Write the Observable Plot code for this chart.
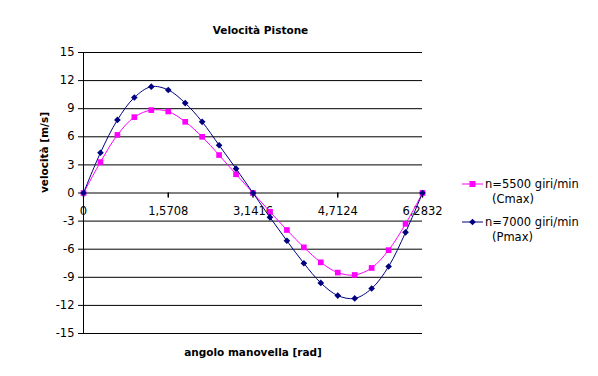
<!DOCTYPE html>
<html><head><meta charset="utf-8">
<script src="https://cdn.jsdelivr.net/npm/d3@7"></script>
<script src="https://cdn.jsdelivr.net/npm/@observablehq/plot@0.6"></script>
<style>body{margin:0;background:#fff}#chart{width:598px;height:376px}</style>
</head><body><div id="chart"></div>
<script>
const angles = [0, 0.3142, 0.6283, 0.9425, 1.2566, 1.5708, 1.8850, 2.1991, 2.5133, 2.8274, 3.1416,
                3.4558, 3.7699, 4.0841, 4.3982, 4.7124, 5.0265, 5.3407, 5.6549, 5.9690, 6.2832];
const v5500 = [0, 3.3, 6.2, 8.1, 8.85, 8.7, 7.6, 6.0, 4.05, 2.0, 0,
               -2.0, -3.95, -5.8, -7.4, -8.5, -8.75, -8.0, -6.1, -3.3, 0];
const v7000 = [0, 4.3, 7.8, 10.2, 11.35, 11.0, 9.6, 7.6, 5.1, 2.6, 0,
               -2.6, -5.1, -7.5, -9.6, -10.95, -11.25, -10.2, -7.85, -4.2, 0];
const yTicks = [-15, -12, -9, -6, -3, 0, 3, 6, 9, 12, 15];
const xTicks = [0, 1.5708, 3.1416, 4.7124, 6.2832];
const xTickLabels = ["0", "1,5708", "3,1416", "4,7124", "6,2832"];
const seriesNames = ["n=5500 giri/min", "n=7000 giri/min"];
const seriesSub = ["(Cmax)", "(Pmax)"];
const colors = ["#FF00FF", "#000080"];
const title = "Velocità Pistone";
const xLabel = "angolo manovella [rad]";
const yLabel = "velocità [m/s]";

const font = "'DejaVu Sans', sans-serif";
const tickShape = {draw(ctx, l) { ctx.moveTo(0, 0); ctx.lineTo(0, -l); }};

const plot = Plot.plot({
  width: 598, height: 376,
  marginLeft: 83, marginRight: 176, marginTop: 52, marginBottom: 43,
  x: {domain: [0, 6.2832], axis: null},
  y: {domain: [-15, 15]},
  style: {fontFamily: font, fontSize: "11.5px", color: "#000", background: "#fff"},
  marks: [
    Plot.gridY(yTicks, {stroke: "#000", strokeOpacity: 1}),
    Plot.ruleX([0], {stroke: "#000"}),
    Plot.axisY(yTicks, {tickSize: 5, tickPadding: 4, tickFormat: d => String(d), label: null, fontSize: 11.5}),
    Plot.vector(xTicks, {x: d => d, y: 0, length: 4, rotate: 180, anchor: "start", shape: tickShape, stroke: "#000"}),
    Plot.text(xTicks, {x: d => d, y: 0, text: (d, i) => xTickLabels[i], dy: 18, fontSize: 11.5}),
    Plot.line(angles, {x: angles, y: v5500, curve: "catmull-rom", stroke: colors[0], strokeWidth: 1}),
    Plot.dot(angles, {x: angles, y: v5500, symbol: "square", r: 3.2, fill: colors[0], stroke: "none"}),
    Plot.line(angles, {x: angles, y: v7000, curve: "catmull-rom", stroke: colors[1], strokeWidth: 1}),
    Plot.dot(angles, {x: angles, y: v7000, symbol: "diamond2", r: 3, fill: colors[1], stroke: "none"}),
    Plot.text([title], {frameAnchor: "top", dy: -26, dx: 7.5, fontWeight: "bold", fontSize: 10.5}),
    Plot.text([xLabel], {frameAnchor: "bottom", dy: 22, fontWeight: "bold", fontSize: 10.5}),
    Plot.text([yLabel], {frameAnchor: "left", dx: -39, rotate: -90, fontWeight: "bold", fontSize: 10.5})
  ]
});

const svg = d3.select(plot);
const lg = svg.append("g").attr("font-family", font).attr("font-size", "11.5px").attr("text-anchor", "start");
const ys = [184, 222];
const syms = [d3.symbol(d3.symbolSquare, 36), d3.symbol(d3.symbolDiamond2, 28)];
[0, 1].forEach(i => {
  const y = ys[i];
  lg.append("line").attr("x1", 462).attr("x2", 483).attr("y1", y).attr("y2", y).attr("stroke", colors[i]);
  lg.append("path").attr("d", syms[i]()).attr("transform", `translate(472.5,${y})`).attr("fill", colors[i]);
  lg.append("text").attr("x", 485).attr("y", y).attr("dy", "0.35em").text(seriesNames[i]);
  lg.append("text").attr("x", 492).attr("y", y + 15).attr("dy", "0.35em").text(seriesSub[i]);
});

document.getElementById("chart").appendChild(plot);
</script>
</body></html>
